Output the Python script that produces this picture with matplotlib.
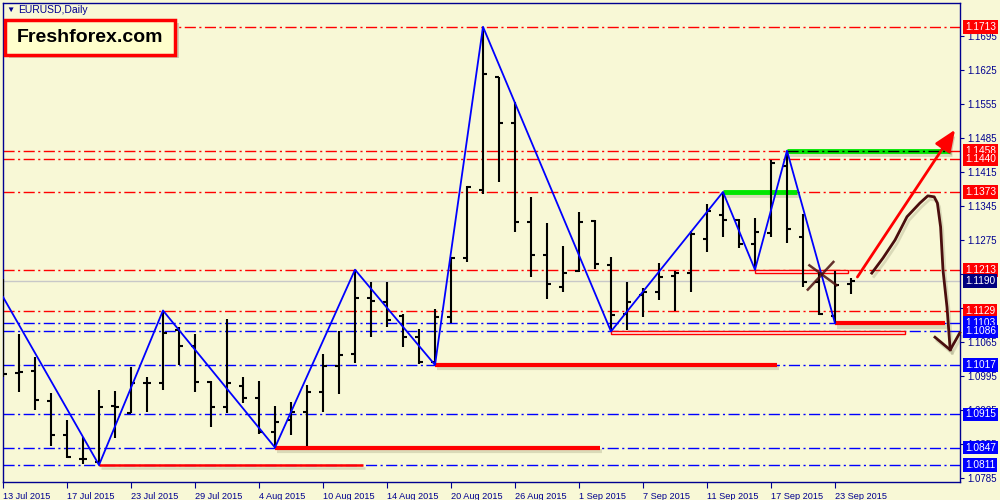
import numpy as np
import matplotlib
matplotlib.use("Agg")
import matplotlib.pyplot as plt
import matplotlib.patheffects as pe
from matplotlib.patches import Rectangle
from matplotlib.transforms import offset_copy

plt.rcParams['font.family'] = ['Liberation Sans', 'DejaVu Sans']

# EURUSD daily bars, one entry per trading day from 13 Jul 2015
opens = [1.1151, 1.1000, 1.1004, 1.0943, 1.0873, 1.0823, 1.0817, 1.0932, 1.0918, 1.0980,
         1.0980, 1.1089, 1.1056, 1.0982, 1.0930, 1.0974, 1.0949, 1.0879, 1.0903, 1.0920,
         1.0961, 1.1015, 1.1039, 1.1155, 1.1147, 1.1118, 1.1074, 1.1023, 1.1116, 1.1237,
         1.1377, 1.1610, 1.1515, 1.1311, 1.1243, 1.1177, 1.1210, 1.1313, 1.1223, 1.1122,
         1.1161, 1.1167, 1.1200, 1.1206, 1.1276, 1.1326, 1.1315, 1.1266, 1.1289, 1.1427,
         1.1280, 1.1188, 1.1118, 1.1184]
highs = [1.1194, 1.1081, 1.1033, 1.0959, 1.0903, 1.0868, 1.0965, 1.0963, 1.1013, 1.0992,
         1.1129, 1.1095, 1.1081, 1.0984, 1.1112, 1.0992, 1.0984, 1.0932, 1.0941, 1.0976,
         1.1039, 1.1087, 1.1213, 1.1188, 1.1188, 1.1122, 1.1091, 1.1132, 1.1239, 1.1385,
         1.1713, 1.1610, 1.1558, 1.1363, 1.1309, 1.1262, 1.1332, 1.1315, 1.1239, 1.1188,
         1.1175, 1.1227, 1.1210, 1.1293, 1.1348, 1.1373, 1.1318, 1.1320, 1.1439, 1.1458,
         1.1328, 1.1208, 1.1210, 1.1196]
lows = [1.0992, 1.0961, 1.0924, 1.0850, 1.0825, 1.0813, 1.0811, 1.0866, 1.0918, 1.0920,
        1.0965, 1.1017, 1.0961, 1.0889, 1.0918, 1.0938, 1.0875, 1.0847, 1.0873, 1.0850,
        1.0920, 1.0957, 1.1021, 1.1074, 1.1095, 1.1054, 1.1019, 1.1017, 1.1103, 1.1229,
        1.1369, 1.1394, 1.1291, 1.1198, 1.1153, 1.1167, 1.1208, 1.1215, 1.1086, 1.1088,
        1.1116, 1.1151, 1.1128, 1.1167, 1.1250, 1.1280, 1.1258, 1.1213, 1.1280, 1.1268,
        1.1177, 1.1120, 1.1103, 1.1163]
closes = [1.0998, 1.1002, 1.0945, 1.0873, 1.0827, 1.0823, 1.0930, 1.0930, 1.0980, 1.0980,
          1.1083, 1.1056, 1.0982, 1.0930, 1.0980, 1.0949, 1.0879, 1.0899, 1.0920, 1.0961,
          1.1015, 1.1037, 1.1155, 1.1149, 1.1109, 1.1074, 1.1023, 1.1116, 1.1237, 1.1383,
          1.1616, 1.1515, 1.1311, 1.1243, 1.1184, 1.1206, 1.1311, 1.1225, 1.1120, 1.1147,
          1.1167, 1.1198, 1.1206, 1.1287, 1.1334, 1.1315, 1.1266, 1.1291, 1.1433, 1.1297,
          1.1188, 1.1122, 1.1182, 1.1190]

date_labels = ['13 Jul 2015', '17 Jul 2015', '23 Jul 2015', '29 Jul 2015', '4 Aug 2015',
               '10 Aug 2015', '14 Aug 2015', '20 Aug 2015', '26 Aug 2015', '1 Sep 2015',
               '7 Sep 2015', '11 Sep 2015', '17 Sep 2015', '23 Sep 2015']

# zigzag swing points (bar index, price)
zz_idx = [0, 6, 10, 17, 22, 27, 30, 38, 45, 47, 49, 52]
zz_price = [1.1157, 1.0811, 1.1129, 1.0847, 1.1213, 1.1017, 1.1713, 1.1086, 1.1373, 1.1213, 1.1458, 1.1103]

# horizontal levels
red_levels = [1.1713, 1.1458, 1.1440, 1.1373, 1.1213, 1.1129]
blue_levels = [1.1103, 1.1086, 1.1017, 1.0915, 1.0847, 1.0811]
last_price = 1.1190

# support segments (start bar, end bar, price, width)
red_segments = [(6, 22.5, 1.0811, 1.8), (17, 37.3, 1.0847, 3), (27, 48.4, 1.1017, 3), (52, 58.9, 1.1103, 3)]
red_boxes = [(38, 56.4, 1.1086), (47, 52.8, 1.1213)]
green_segments = [(45, 49.6, 1.1373), (49, 59.2, 1.1458)]

# hand drawn annotations
arrow_up = [(53.4, 1.1198), (59.5, 1.1501)]
curve_x = [54.3, 55.0, 55.75, 56.5, 57.3, 57.8, 58.2, 58.4, 58.6, 58.75, 59.0, 59.2]
curve_y = [1.1206, 1.1237, 1.1274, 1.1322, 1.1350, 1.1365, 1.1363, 1.1350, 1.1301, 1.1212, 1.1136, 1.1048]
head_x = [58.25, 59.2, 59.8]
head_y = [1.1074, 1.1048, 1.1083]
cross_a = ([50.3, 51.9], [1.1172, 1.1229])
cross_b = ([50.4, 52.1], [1.1222, 1.1181])

BG = '#F8F8D6'
NAVY = '#000090'
BROWN = '#4A0E0E'

fig = plt.figure(figsize=(10, 5), dpi=100, facecolor=BG)
ax = fig.add_axes([0.003, 0.036, 0.957, 0.958], facecolor=BG)
ax.set_xlim(0, 59.8125)
ax.set_ylim(1.0776, 1.1762)

shadow = [pe.SimpleLineShadow(offset=(1.5, -2.5), shadow_color='#707050', alpha=0.22), pe.Normal()]
dashdot = (0, (8, 2.5, 1.5, 2.5))

for p in red_levels:
    ax.axhline(p, color='#FF0000', lw=1, ls=dashdot, zorder=1)
for p in blue_levels:
    ax.axhline(p, color='#0000FF', lw=1, ls=dashdot, zorder=1)
ax.axhline(last_price, color='#C8C8C8', lw=1, zorder=1)

for x0, x1, p, w in red_segments:
    ax.plot([x0, x1], [p, p], color='#FF0000', lw=w, solid_capstyle='butt',
            path_effects=shadow, zorder=2)
for x0, x1, p in red_boxes:
    ax.add_patch(Rectangle((x0, p - 0.0006), x1 - x0, 0.0006, fc='#FFF4E8', ec='#FF0000',
                           lw=1, zorder=2))
for x0, x1, p in green_segments:
    ax.plot([x0, x1], [p, p], color='#00E600', lw=3.5, solid_capstyle='butt',
            path_effects=shadow, zorder=2)
ax.plot([green_segments[1][0], green_segments[1][1]], [green_segments[1][2]] * 2,
        color='black', lw=1, ls=dashdot, zorder=2.2)

# HLC bars
idx = np.arange(len(opens))
ax.vlines(idx, lows, highs, color='black', lw=1.5, zorder=3)
ax.hlines(opens, idx - 0.28, idx, color='black', lw=1.5, zorder=3)
ax.hlines(closes, idx, idx + 0.28, color='black', lw=1.5, zorder=3)

ax.plot(zz_idx, zz_price, color='#0000FF', lw=1.3, zorder=4)

# drawings on the right
ax.annotate('', xy=arrow_up[1], xytext=arrow_up[0],
            arrowprops=dict(arrowstyle='-|>,head_length=1.3,head_width=0.55', color='#FF0000', lw=2,
                            shrinkA=0, shrinkB=0,
                            path_effects=[pe.SimplePatchShadow(offset=(1.5, -2.5), alpha=0.2), pe.Normal()]),
            zorder=5, annotation_clip=False)
ax.plot(curve_x, curve_y, color=BROWN, lw=2, path_effects=shadow, zorder=5, clip_on=False)
ax.plot(head_x, head_y, color=BROWN, lw=2, path_effects=shadow, zorder=5, clip_on=False)
ax.plot(*cross_a, color=BROWN, lw=1.8, alpha=0.85, zorder=5)
ax.plot(*cross_b, color=BROWN, lw=1.8, alpha=0.85, zorder=5)

# axes styling
for s in ax.spines.values():
    s.set_color(NAVY)
    s.set_linewidth(1)
ax.yaxis.tick_right()
ax.set_yticks(np.arange(1.0785, 1.1700, 0.007))
ax.yaxis.set_major_formatter(matplotlib.ticker.FormatStrFormatter('%.4f'))
ax.tick_params(axis='y', colors=NAVY, labelsize=7, length=3, pad=2, labelcolor=NAVY)
ax.set_xticks(np.arange(0, 4 * len(date_labels), 4))
ax.set_xticklabels(date_labels)
ax.tick_params(axis='x', colors=NAVY, labelsize=6.6, length=4, pad=3, labelcolor=NAVY)
for lbl in ax.get_xticklabels():
    lbl.set_ha('left')

# price labels on the right scale
lab_tr = offset_copy(ax.get_yaxis_transform(), fig=fig, x=5, y=0, units='dots')
label_boxes = [(p, '#FF0000') for p in red_levels] + [(p, '#0000FF') for p in blue_levels] + [(last_price, '#000080')]
for p, c in label_boxes:
    ax.text(1.0, p, f'{p:.4f}', transform=lab_tr, ha='left', va='center', fontsize=7.3,
            color='white', clip_on=False, zorder=6,
            bbox=dict(boxstyle='square,pad=0.18', fc=c, ec='none'))

# header and logo
fig.text(0.006, 1 - 10 / 500, '\u25bc', fontsize=6, color=NAVY, va='center')
fig.text(0.018, 1 - 10 / 500, 'EURUSD,Daily', fontsize=7.5, color=NAVY, va='center')
fig.patches.append(Rectangle((0.009, 1 - 58 / 500), 0.170, 35 / 500, transform=fig.transFigure,
                             fc='#707060', ec='none', alpha=0.3, zorder=6))
fig.patches.append(Rectangle((0.005, 1 - 55 / 500), 0.170, 35 / 500, transform=fig.transFigure,
                             fc='#FFFFCC', ec='#FF0000', lw=2.5, zorder=7))
fig.text(0.090, 1 - 38 / 500, 'Freshforex.com', fontsize=14, weight='bold', color='black',
         ha='center', va='center', zorder=8)

fig.savefig('out.png', dpi=100, facecolor=BG)
